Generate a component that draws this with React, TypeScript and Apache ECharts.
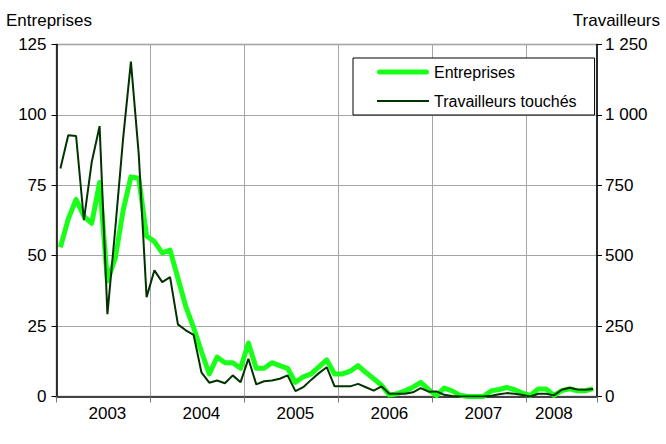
import React, { useEffect, useRef } from "react";
import * as echarts from "echarts";

const years = [2003, 2004, 2005, 2006, 2007, 2008];
const monthsPerYear = [12, 12, 12, 12, 12, 9];
const yearLabelIndex = [6, 18, 30, 42, 54, 63];

const entreprises = [
  53, 63, 70, 64, 61.5, 76, 41, 49, 66, 78, 77.5, 57,
  55, 51, 52, 42, 32, 24.5, 16, 8, 14, 12, 12, 10,
  19, 10, 10, 12, 11, 10, 5, 7, 8, 10.5, 13, 8,
  8, 9, 11, 8.5, 6.3, 4, 0.5, 1, 2, 3.3, 5, 2.5,
  0.3, 3, 2, 0.5, 0, 0, 0, 2, 2.5, 3.2, 2.4, 1.2,
  0.4, 2.7, 2.7, 0.4, 2.1, 2.7, 2, 2, 2.8,
];

const travailleurs = [
  810, 928, 925, 626, 833, 960, 292, 595, 915, 1189, 860, 353,
  448, 406, 424, 256, 235, 219, 86, 49, 57, 47, 75, 51,
  134, 43, 54, 57, 63, 75, 19, 33, 59, 83, 104, 36,
  36, 36, 45, 33, 21, 36, 10, 10, 10, 15, 30, 17,
  18, 6, 2, 0, 0, 0, 0, 3, 8, 12, 10, 5,
  0, 10, 10, 4, 24, 31, 25, 24, 27,
];

const categories: string[] = [];
years.forEach((y, yi) => {
  for (let m = 1; m <= monthsPerYear[yi]; m++) {
    categories.push(`${y}-${String(m).padStart(2, "0")}`);
  }
});

const FONT = "'Liberation Sans', Arial, sans-serif";
const GREEN = "#1aff1a";
const DARK = "#003300";

function fmtThousands(v: number): string {
  return String(v).replace(/\B(?=(\d{3})+(?!\d))/g, " ");
}

export default function App() {
  const ref = useRef<HTMLDivElement>(null);
  useEffect(() => {
    if (!ref.current) return;
    const chart = echarts.init(ref.current, undefined, { renderer: "svg" });
    chart.setOption({
      animation: false,
      backgroundColor: "#ffffff",
      textStyle: { fontFamily: FONT },
      title: [
        {
          text: "Entreprises",
          left: 1,
          top: 7,
          textStyle: { fontFamily: FONT, fontSize: 17, fontWeight: "normal", color: "#000" },
        },
        {
          text: "Travailleurs",
          right: 1,
          top: 7,
          textStyle: { fontFamily: FONT, fontSize: 17, fontWeight: "normal", color: "#000" },
        },
      ],
      grid: {
        left: 56.5,
        right: 69,
        top: 44.5,
        bottom: 47.5,
        show: true,
        borderColor: "#8c8c8c",
        borderWidth: 1.5,
        backgroundColor: "transparent",
      },
      legend: {
        orient: "vertical",
        left: 353,
        top: 58,
        padding: [6, 18, 6, 24],
        itemWidth: 52,
        itemHeight: 14,
        itemGap: 13,
        symbolKeepAspect: true,
        borderColor: "#000",
        borderWidth: 1,
        backgroundColor: "#fff",
        textStyle: { fontFamily: FONT, fontSize: 16, color: "#000" },
        data: [
          {
            name: "Entreprises",
            icon: "path://M2.5,0 L49.5,0 A2.5,2.5 0 0 1 49.5,5 L2.5,5 A2.5,2.5 0 0 1 2.5,0 Z",
            itemStyle: { color: GREEN, borderWidth: 0 },
          },
          {
            name: "Travailleurs touchés",
            icon: "path://M0,0 L52,0 L52,2 L0,2 Z",
            itemStyle: { color: DARK, borderWidth: 0 },
          },
        ],
      },
      xAxis: {
        type: "category",
        data: categories,
        boundaryGap: true,
        axisLine: { show: true, lineStyle: { color: "#444", width: 2 } },
        axisTick: {
          show: true,
          interval: (i: number) => i % 12 === 0,
          length: 6,
          lineStyle: { color: "#777", width: 1 },
        },
        splitLine: {
          show: true,
          interval: (i: number) => i % 12 === 0,
          lineStyle: { color: "#a6a6a6", width: 1 },
        },
        axisLabel: {
          interval: (i: number) => yearLabelIndex.indexOf(i) >= 0,
          formatter: (v: string) => v.slice(0, 4),
          fontFamily: FONT,
          fontSize: 17,
          color: "#000",
          margin: 8,
        },
      },
      yAxis: [
        {
          type: "value",
          min: 0,
          max: 125,
          interval: 25,
          position: "left",
          axisLine: { show: true, lineStyle: { color: "#000", width: 1.5 } },
          axisTick: { show: true, length: 5, lineStyle: { color: "#000", width: 1 } },
          splitLine: { show: true, lineStyle: { color: "#a6a6a6", width: 1 } },
          axisLabel: { fontFamily: FONT, fontSize: 17, color: "#000", margin: 10 },
        },
        {
          type: "value",
          min: 0,
          max: 1250,
          interval: 250,
          position: "right",
          axisLine: { show: true, lineStyle: { color: "#000", width: 1.5 } },
          axisTick: { show: true, length: 5, lineStyle: { color: "#000", width: 1 } },
          splitLine: { show: false },
          axisLabel: {
            fontFamily: FONT,
            fontSize: 17,
            color: "#000",
            margin: 8,
            formatter: (v: number) => fmtThousands(v),
          },
        },
      ],
      series: [
        {
          name: "Entreprises",
          type: "line",
          yAxisIndex: 0,
          data: entreprises,
          showSymbol: false,
          symbol: "none",
          lineStyle: { color: GREEN, width: 5, join: "round" },
          itemStyle: { color: GREEN },
        },
        {
          name: "Travailleurs touchés",
          type: "line",
          yAxisIndex: 1,
          data: travailleurs,
          showSymbol: false,
          symbol: "none",
          lineStyle: { color: DARK, width: 2 },
          itemStyle: { color: DARK },
        },
      ],
    });
    return () => chart.dispose();
  }, []);
  return (
    <div
      ref={ref}
      style={{ position: "absolute", left: 0, top: 0, width: 666, height: 444 }}
    />
  );
}
